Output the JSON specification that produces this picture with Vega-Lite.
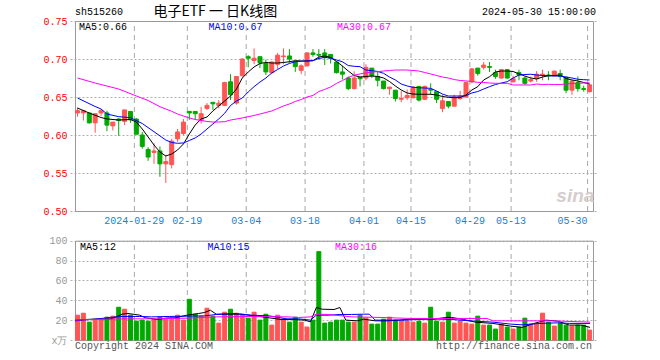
{
"$schema":"https://vega.github.io/schema/vega-lite/v6.json",
"width":528,"height":319,
"autosize":{"type":"none"},
"padding":{"left":70,"top":21,"right":62,"bottom":20},
"background":"#FFFFFF",
"config":{"view":{"stroke":null},"axis":{"labelFont":"Liberation Mono","labelFontSize":10},"text":{"font":"Liberation Mono","fontSize":10}},
"datasets":{
"grid":[{"g":10},{"g":19},{"g":29},{"g":39},{"g":49},{"g":57},{"g":67},{"g":74},{"g":87}],
"k":[
{"d":"2024-01-15","i":0,"o":0.629,"h":0.636,"l":0.624,"c":0.632,"v":25},
{"d":"2024-01-16","i":1,"o":0.629,"h":0.633,"l":0.619,"c":0.632,"v":27},
{"d":"2024-01-17","i":2,"o":0.629,"h":0.629,"l":0.615,"c":0.616,"v":18},
{"d":"2024-01-18","i":3,"o":0.616,"h":0.628,"l":0.603,"c":0.628,"v":20},
{"d":"2024-01-19","i":4,"o":0.629,"h":0.634,"l":0.625,"c":0.632,"v":21},
{"d":"2024-01-22","i":5,"o":0.629,"h":0.632,"l":0.605,"c":0.613,"v":23},
{"d":"2024-01-23","i":6,"o":0.612,"h":0.617,"l":0.606,"c":0.617,"v":24},
{"d":"2024-01-24","i":7,"o":0.621,"h":0.622,"l":0.599,"c":0.619,"v":33},
{"d":"2024-01-25","i":8,"o":0.618,"h":0.633,"l":0.613,"c":0.633,"v":31},
{"d":"2024-01-26","i":9,"o":0.631,"h":0.631,"l":0.616,"c":0.620,"v":25},
{"d":"2024-01-29","i":10,"o":0.621,"h":0.622,"l":0.601,"c":0.601,"v":19},
{"d":"2024-01-30","i":11,"o":0.600,"h":0.604,"l":0.582,"c":0.585,"v":20},
{"d":"2024-01-31","i":12,"o":0.581,"h":0.584,"l":0.566,"c":0.571,"v":19},
{"d":"2024-02-01","i":13,"o":0.577,"h":0.589,"l":0.562,"c":0.579,"v":21},
{"d":"2024-02-02","i":14,"o":0.579,"h":0.585,"l":0.545,"c":0.562,"v":23},
{"d":"2024-02-05","i":15,"o":0.562,"h":0.574,"l":0.537,"c":0.565,"v":22},
{"d":"2024-02-06","i":16,"o":0.561,"h":0.595,"l":0.556,"c":0.592,"v":21},
{"d":"2024-02-07","i":17,"o":0.595,"h":0.608,"l":0.591,"c":0.604,"v":25},
{"d":"2024-02-08","i":18,"o":0.602,"h":0.621,"l":0.600,"c":0.617,"v":20},
{"d":"2024-02-19","i":19,"o":0.631,"h":0.631,"l":0.620,"c":0.629,"v":41},
{"d":"2024-02-20","i":20,"o":0.631,"h":0.631,"l":0.620,"c":0.628,"v":26},
{"d":"2024-02-21","i":21,"o":0.619,"h":0.637,"l":0.615,"c":0.628,"v":24},
{"d":"2024-02-22","i":22,"o":0.635,"h":0.642,"l":0.633,"c":0.639,"v":32},
{"d":"2024-02-23","i":23,"o":0.643,"h":0.643,"l":0.633,"c":0.641,"v":24},
{"d":"2024-02-26","i":24,"o":0.639,"h":0.646,"l":0.635,"c":0.642,"v":17},
{"d":"2024-02-27","i":25,"o":0.639,"h":0.670,"l":0.638,"c":0.669,"v":28},
{"d":"2024-02-28","i":26,"o":0.670,"h":0.680,"l":0.646,"c":0.653,"v":31},
{"d":"2024-02-29","i":27,"o":0.642,"h":0.677,"l":0.640,"c":0.677,"v":27},
{"d":"2024-03-01","i":28,"o":0.678,"h":0.701,"l":0.677,"c":0.700,"v":26},
{"d":"2024-03-04","i":29,"o":0.703,"h":0.705,"l":0.689,"c":0.701,"v":22},
{"d":"2024-03-05","i":30,"o":0.698,"h":0.714,"l":0.693,"c":0.701,"v":28},
{"d":"2024-03-06","i":31,"o":0.703,"h":0.703,"l":0.688,"c":0.695,"v":20},
{"d":"2024-03-07","i":32,"o":0.694,"h":0.699,"l":0.679,"c":0.683,"v":26},
{"d":"2024-03-08","i":33,"o":0.682,"h":0.697,"l":0.680,"c":0.696,"v":15},
{"d":"2024-03-11","i":34,"o":0.693,"h":0.708,"l":0.687,"c":0.705,"v":25},
{"d":"2024-03-12","i":35,"o":0.703,"h":0.714,"l":0.693,"c":0.704,"v":21},
{"d":"2024-03-13","i":36,"o":0.704,"h":0.713,"l":0.695,"c":0.700,"v":18},
{"d":"2024-03-14","i":37,"o":0.697,"h":0.697,"l":0.683,"c":0.690,"v":23},
{"d":"2024-03-15","i":38,"o":0.685,"h":0.693,"l":0.680,"c":0.691,"v":18},
{"d":"2024-03-18","i":39,"o":0.691,"h":0.709,"l":0.690,"c":0.708,"v":13},
{"d":"2024-03-19","i":40,"o":0.708,"h":0.713,"l":0.703,"c":0.706,"v":20},
{"d":"2024-03-20","i":41,"o":0.706,"h":0.713,"l":0.699,"c":0.705,"v":89},
{"d":"2024-03-21","i":42,"o":0.708,"h":0.713,"l":0.692,"c":0.702,"v":17},
{"d":"2024-03-22","i":43,"o":0.706,"h":0.706,"l":0.694,"c":0.701,"v":18},
{"d":"2024-03-25","i":44,"o":0.696,"h":0.696,"l":0.681,"c":0.682,"v":20},
{"d":"2024-03-26","i":45,"o":0.683,"h":0.691,"l":0.673,"c":0.680,"v":20},
{"d":"2024-03-27","i":46,"o":0.675,"h":0.677,"l":0.659,"c":0.661,"v":18},
{"d":"2024-03-28","i":47,"o":0.661,"h":0.684,"l":0.660,"c":0.675,"v":18},
{"d":"2024-03-29","i":48,"o":0.676,"h":0.676,"l":0.664,"c":0.674,"v":25},
{"d":"2024-04-01","i":49,"o":0.675,"h":0.693,"l":0.672,"c":0.689,"v":22},
{"d":"2024-04-02","i":50,"o":0.688,"h":0.688,"l":0.675,"c":0.678,"v":16},
{"d":"2024-04-03","i":51,"o":0.677,"h":0.683,"l":0.664,"c":0.672,"v":16},
{"d":"2024-04-08","i":52,"o":0.671,"h":0.671,"l":0.660,"c":0.661,"v":21},
{"d":"2024-04-09","i":53,"o":0.661,"h":0.663,"l":0.653,"c":0.663,"v":23},
{"d":"2024-04-10","i":54,"o":0.659,"h":0.659,"l":0.644,"c":0.648,"v":20},
{"d":"2024-04-11","i":55,"o":0.647,"h":0.658,"l":0.643,"c":0.648,"v":19},
{"d":"2024-04-12","i":56,"o":0.649,"h":0.660,"l":0.646,"c":0.652,"v":19},
{"d":"2024-04-15","i":57,"o":0.649,"h":0.664,"l":0.648,"c":0.663,"v":18},
{"d":"2024-04-16","i":58,"o":0.664,"h":0.664,"l":0.644,"c":0.646,"v":19},
{"d":"2024-04-17","i":59,"o":0.647,"h":0.665,"l":0.646,"c":0.664,"v":17},
{"d":"2024-04-18","i":60,"o":0.660,"h":0.668,"l":0.653,"c":0.659,"v":33},
{"d":"2024-04-19","i":61,"o":0.657,"h":0.657,"l":0.642,"c":0.647,"v":19},
{"d":"2024-04-22","i":62,"o":0.635,"h":0.653,"l":0.630,"c":0.645,"v":18},
{"d":"2024-04-23","i":63,"o":0.644,"h":0.644,"l":0.635,"c":0.638,"v":28},
{"d":"2024-04-24","i":64,"o":0.638,"h":0.653,"l":0.637,"c":0.650,"v":17},
{"d":"2024-04-25","i":65,"o":0.648,"h":0.658,"l":0.646,"c":0.651,"v":19},
{"d":"2024-04-26","i":66,"o":0.650,"h":0.670,"l":0.649,"c":0.669,"v":17},
{"d":"2024-04-29","i":67,"o":0.670,"h":0.688,"l":0.668,"c":0.687,"v":16},
{"d":"2024-04-30","i":68,"o":0.688,"h":0.688,"l":0.678,"c":0.681,"v":24},
{"d":"2024-05-06","i":69,"o":0.689,"h":0.696,"l":0.686,"c":0.692,"v":15},
{"d":"2024-05-07","i":70,"o":0.690,"h":0.696,"l":0.683,"c":0.689,"v":15},
{"d":"2024-05-08","i":71,"o":0.682,"h":0.686,"l":0.674,"c":0.677,"v":11},
{"d":"2024-05-09","i":72,"o":0.675,"h":0.687,"l":0.674,"c":0.686,"v":16},
{"d":"2024-05-10","i":73,"o":0.686,"h":0.686,"l":0.674,"c":0.675,"v":13},
{"d":"2024-05-13","i":74,"o":0.670,"h":0.678,"l":0.669,"c":0.674,"v":11},
{"d":"2024-05-14","i":75,"o":0.682,"h":0.686,"l":0.672,"c":0.679,"v":13},
{"d":"2024-05-15","i":76,"o":0.675,"h":0.677,"l":0.666,"c":0.668,"v":22},
{"d":"2024-05-16","i":77,"o":0.671,"h":0.677,"l":0.669,"c":0.673,"v":16},
{"d":"2024-05-17","i":78,"o":0.674,"h":0.684,"l":0.670,"c":0.680,"v":16},
{"d":"2024-05-20","i":79,"o":0.679,"h":0.686,"l":0.672,"c":0.680,"v":27},
{"d":"2024-05-21","i":80,"o":0.679,"h":0.684,"l":0.672,"c":0.678,"v":18},
{"d":"2024-05-22","i":81,"o":0.678,"h":0.685,"l":0.677,"c":0.684,"v":14},
{"d":"2024-05-23","i":82,"o":0.681,"h":0.686,"l":0.672,"c":0.677,"v":17},
{"d":"2024-05-24","i":83,"o":0.676,"h":0.676,"l":0.655,"c":0.659,"v":15},
{"d":"2024-05-27","i":84,"o":0.659,"h":0.672,"l":0.653,"c":0.671,"v":14},
{"d":"2024-05-28","i":85,"o":0.669,"h":0.677,"l":0.657,"c":0.661,"v":15},
{"d":"2024-05-29","i":86,"o":0.661,"h":0.665,"l":0.657,"c":0.660,"v":15},
{"d":"2024-05-30","i":87,"o":0.657,"h":0.667,"l":0.656,"c":0.666,"v":10}
],
"ma":[
{"i":0,"s":"MA5","p":0.6355},{"i":2,"s":"MA5","p":0.6289},{"i":4,"s":"MA5","p":0.623},{"i":5,"s":"MA5","p":0.6211},{"i":7,"s":"MA5","p":0.6197},{"i":9,"s":"MA5","p":0.6204},{"i":10,"s":"MA5","p":0.6171},{"i":11,"s":"MA5","p":0.6079},{"i":12,"s":"MA5","p":0.5974},{"i":13,"s":"MA5","p":0.5868},{"i":14,"s":"MA5","p":0.5776},{"i":15,"s":"MA5","p":0.5724},{"i":16,"s":"MA5","p":0.575},{"i":17,"s":"MA5","p":0.5803},{"i":18,"s":"MA5","p":0.5882},{"i":19,"s":"MA5","p":0.6013},{"i":20,"s":"MA5","p":0.6132},{"i":21,"s":"MA5","p":0.6211},{"i":22,"s":"MA5","p":0.6237},{"i":23,"s":"MA5","p":0.6316},{"i":24,"s":"MA5","p":0.6382},{"i":25,"s":"MA5","p":0.6447},{"i":26,"s":"MA5","p":0.6513},{"i":27,"s":"MA5","p":0.6605},{"i":28,"s":"MA5","p":0.675},{"i":29,"s":"MA5","p":0.6829},{"i":30,"s":"MA5","p":0.6895},{"i":31,"s":"MA5","p":0.6941},{"i":32,"s":"MA5","p":0.6954},{"i":33,"s":"MA5","p":0.6947},{"i":34,"s":"MA5","p":0.6947},{"i":35,"s":"MA5","p":0.6954},{"i":36,"s":"MA5","p":0.6964},{"i":37,"s":"MA5","p":0.6978},{"i":38,"s":"MA5","p":0.6974},{"i":39,"s":"MA5","p":0.6974},{"i":40,"s":"MA5","p":0.6978},{"i":41,"s":"MA5","p":0.7026},{"i":42,"s":"MA5","p":0.7039},{"i":43,"s":"MA5","p":0.702},{"i":44,"s":"MA5","p":0.6967},{"i":45,"s":"MA5","p":0.6908},{"i":46,"s":"MA5","p":0.6842},{"i":47,"s":"MA5","p":0.6783},{"i":48,"s":"MA5","p":0.6763},{"i":49,"s":"MA5","p":0.677},{"i":50,"s":"MA5","p":0.6776},{"i":51,"s":"MA5","p":0.677},{"i":52,"s":"MA5","p":0.675},{"i":53,"s":"MA5","p":0.6704},{"i":54,"s":"MA5","p":0.6645},{"i":55,"s":"MA5","p":0.6592},{"i":56,"s":"MA5","p":0.6553},{"i":57,"s":"MA5","p":0.6539},{"i":58,"s":"MA5","p":0.6536},{"i":59,"s":"MA5","p":0.6536},{"i":60,"s":"MA5","p":0.6536},{"i":61,"s":"MA5","p":0.6526},{"i":62,"s":"MA5","p":0.6507},{"i":63,"s":"MA5","p":0.6496},{"i":64,"s":"MA5","p":0.6491},{"i":65,"s":"MA5","p":0.6493},{"i":66,"s":"MA5","p":0.6526},{"i":67,"s":"MA5","p":0.6592},{"i":68,"s":"MA5","p":0.6636},{"i":69,"s":"MA5","p":0.6724},{"i":70,"s":"MA5","p":0.6767},{"i":71,"s":"MA5","p":0.6829},{"i":72,"s":"MA5","p":0.6842},{"i":73,"s":"MA5","p":0.6842},{"i":74,"s":"MA5","p":0.6836},{"i":75,"s":"MA5","p":0.6803},{"i":76,"s":"MA5","p":0.6776},{"i":77,"s":"MA5","p":0.675},{"i":78,"s":"MA5","p":0.6737},{"i":79,"s":"MA5","p":0.6763},{"i":80,"s":"MA5","p":0.678},{"i":81,"s":"MA5","p":0.6783},{"i":82,"s":"MA5","p":0.6789},{"i":83,"s":"MA5","p":0.6743},{"i":84,"s":"MA5","p":0.6724},{"i":85,"s":"MA5","p":0.6711},{"i":86,"s":"MA5","p":0.6691},{"i":87,"s":"MA5","p":0.6671},
{"i":0,"s":"MA10","p":0.6487},{"i":3,"s":"MA10","p":0.6375},{"i":4,"s":"MA10","p":0.6342},{"i":5,"s":"MA10","p":0.6276},{"i":7,"s":"MA10","p":0.6241},{"i":9,"s":"MA10","p":0.6228},{"i":11,"s":"MA10","p":0.6151},{"i":13,"s":"MA10","p":0.6043},{"i":15,"s":"MA10","p":0.5934},{"i":16,"s":"MA10","p":0.5901},{"i":17,"s":"MA10","p":0.5891},{"i":18,"s":"MA10","p":0.5895},{"i":19,"s":"MA10","p":0.5928},{"i":20,"s":"MA10","p":0.5961},{"i":21,"s":"MA10","p":0.6013},{"i":22,"s":"MA10","p":0.6079},{"i":23,"s":"MA10","p":0.6145},{"i":24,"s":"MA10","p":0.6211},{"i":25,"s":"MA10","p":0.6286},{"i":26,"s":"MA10","p":0.6388},{"i":27,"s":"MA10","p":0.6447},{"i":28,"s":"MA10","p":0.6487},{"i":29,"s":"MA10","p":0.6566},{"i":30,"s":"MA10","p":0.6636},{"i":31,"s":"MA10","p":0.6697},{"i":32,"s":"MA10","p":0.675},{"i":33,"s":"MA10","p":0.6816},{"i":34,"s":"MA10","p":0.6862},{"i":35,"s":"MA10","p":0.6908},{"i":36,"s":"MA10","p":0.6941},{"i":37,"s":"MA10","p":0.6964},{"i":38,"s":"MA10","p":0.6971},{"i":39,"s":"MA10","p":0.6974},{"i":40,"s":"MA10","p":0.6978},{"i":41,"s":"MA10","p":0.7007},{"i":42,"s":"MA10","p":0.702},{"i":43,"s":"MA10","p":0.7013},{"i":44,"s":"MA10","p":0.6987},{"i":45,"s":"MA10","p":0.6964},{"i":46,"s":"MA10","p":0.6914},{"i":47,"s":"MA10","p":0.6904},{"i":48,"s":"MA10","p":0.6899},{"i":49,"s":"MA10","p":0.6855},{"i":50,"s":"MA10","p":0.6846},{"i":51,"s":"MA10","p":0.6836},{"i":52,"s":"MA10","p":0.6812},{"i":53,"s":"MA10","p":0.6763},{"i":54,"s":"MA10","p":0.6724},{"i":55,"s":"MA10","p":0.6671},{"i":56,"s":"MA10","p":0.6645},{"i":57,"s":"MA10","p":0.6628},{"i":58,"s":"MA10","p":0.6622},{"i":59,"s":"MA10","p":0.6618},{"i":60,"s":"MA10","p":0.6614},{"i":61,"s":"MA10","p":0.6579},{"i":62,"s":"MA10","p":0.6539},{"i":63,"s":"MA10","p":0.6513},{"i":64,"s":"MA10","p":0.6513},{"i":65,"s":"MA10","p":0.6513},{"i":66,"s":"MA10","p":0.6517},{"i":67,"s":"MA10","p":0.6553},{"i":68,"s":"MA10","p":0.6572},{"i":69,"s":"MA10","p":0.6605},{"i":70,"s":"MA10","p":0.6636},{"i":71,"s":"MA10","p":0.6664},{"i":72,"s":"MA10","p":0.6684},{"i":73,"s":"MA10","p":0.6701},{"i":74,"s":"MA10","p":0.675},{"i":75,"s":"MA10","p":0.6789},{"i":76,"s":"MA10","p":0.6796},{"i":77,"s":"MA10","p":0.6799},{"i":78,"s":"MA10","p":0.6789},{"i":79,"s":"MA10","p":0.6783},{"i":80,"s":"MA10","p":0.678},{"i":81,"s":"MA10","p":0.6776},{"i":82,"s":"MA10","p":0.6776},{"i":83,"s":"MA10","p":0.6763},{"i":84,"s":"MA10","p":0.675},{"i":85,"s":"MA10","p":0.6733},{"i":86,"s":"MA10","p":0.6728},{"i":87,"s":"MA10","p":0.6724},
{"i":0,"s":"MA30","p":0.675},{"i":3,"s":"MA30","p":0.6684},{"i":7,"s":"MA30","p":0.6605},{"i":10,"s":"MA30","p":0.6513},{"i":12,"s":"MA30","p":0.6454},{"i":14,"s":"MA30","p":0.6372},{"i":16,"s":"MA30","p":0.6312},{"i":17,"s":"MA30","p":0.6276},{"i":18,"s":"MA30","p":0.625},{"i":19,"s":"MA30","p":0.6224},{"i":20,"s":"MA30","p":0.6204},{"i":21,"s":"MA30","p":0.6191},{"i":22,"s":"MA30","p":0.6178},{"i":23,"s":"MA30","p":0.6171},{"i":24,"s":"MA30","p":0.6171},{"i":25,"s":"MA30","p":0.6175},{"i":26,"s":"MA30","p":0.6197},{"i":28,"s":"MA30","p":0.6224},{"i":30,"s":"MA30","p":0.6257},{"i":31,"s":"MA30","p":0.6276},{"i":33,"s":"MA30","p":0.6316},{"i":34,"s":"MA30","p":0.6349},{"i":35,"s":"MA30","p":0.6382},{"i":36,"s":"MA30","p":0.6408},{"i":37,"s":"MA30","p":0.6441},{"i":38,"s":"MA30","p":0.6467},{"i":39,"s":"MA30","p":0.65},{"i":40,"s":"MA30","p":0.652},{"i":41,"s":"MA30","p":0.6572},{"i":42,"s":"MA30","p":0.6599},{"i":43,"s":"MA30","p":0.6632},{"i":44,"s":"MA30","p":0.6678},{"i":45,"s":"MA30","p":0.6717},{"i":46,"s":"MA30","p":0.6757},{"i":47,"s":"MA30","p":0.6786},{"i":48,"s":"MA30","p":0.6803},{"i":49,"s":"MA30","p":0.6816},{"i":50,"s":"MA30","p":0.6829},{"i":51,"s":"MA30","p":0.6833},{"i":52,"s":"MA30","p":0.6842},{"i":53,"s":"MA30","p":0.6849},{"i":54,"s":"MA30","p":0.6855},{"i":55,"s":"MA30","p":0.6855},{"i":56,"s":"MA30","p":0.6855},{"i":57,"s":"MA30","p":0.6849},{"i":58,"s":"MA30","p":0.6842},{"i":59,"s":"MA30","p":0.6822},{"i":60,"s":"MA30","p":0.6803},{"i":61,"s":"MA30","p":0.6783},{"i":62,"s":"MA30","p":0.6763},{"i":63,"s":"MA30","p":0.675},{"i":64,"s":"MA30","p":0.673},{"i":65,"s":"MA30","p":0.6717},{"i":66,"s":"MA30","p":0.6711},{"i":67,"s":"MA30","p":0.6704},{"i":68,"s":"MA30","p":0.6693},{"i":69,"s":"MA30","p":0.6691},{"i":70,"s":"MA30","p":0.6684},{"i":71,"s":"MA30","p":0.668},{"i":72,"s":"MA30","p":0.668},{"i":73,"s":"MA30","p":0.668},{"i":74,"s":"MA30","p":0.6658},{"i":75,"s":"MA30","p":0.6658},{"i":76,"s":"MA30","p":0.6658},{"i":77,"s":"MA30","p":0.6658},{"i":78,"s":"MA30","p":0.6671},{"i":79,"s":"MA30","p":0.6664},{"i":80,"s":"MA30","p":0.6667},{"i":81,"s":"MA30","p":0.6664},{"i":82,"s":"MA30","p":0.6664},{"i":83,"s":"MA30","p":0.6671},{"i":84,"s":"MA30","p":0.6678},{"i":85,"s":"MA30","p":0.668},{"i":86,"s":"MA30","p":0.6684},{"i":87,"s":"MA30","p":0.6687}
],
"vma":[
{"i":0,"s":"MA5","v":19.3},{"i":2,"s":"MA5","v":20.7},{"i":4,"s":"MA5","v":21.3},{"i":6,"s":"MA5","v":21.3},{"i":7,"s":"MA5","v":23.3},{"i":8,"s":"MA5","v":26},{"i":9,"s":"MA5","v":26.7},{"i":11,"s":"MA5","v":25},{"i":12,"s":"MA5","v":22.3},{"i":14,"s":"MA5","v":20.7},{"i":16,"s":"MA5","v":22.3},{"i":17,"s":"MA5","v":22.3},{"i":19,"s":"MA5","v":25},{"i":21,"s":"MA5","v":26.7},{"i":22,"s":"MA5","v":27.7},{"i":23,"s":"MA5","v":30},{"i":24,"s":"MA5","v":26},{"i":26,"s":"MA5","v":26},{"i":28,"s":"MA5","v":26},{"i":31,"s":"MA5","v":24},{"i":33,"s":"MA5","v":22.3},{"i":35,"s":"MA5","v":20.7},{"i":37,"s":"MA5","v":20.7},{"i":39,"s":"MA5","v":20},{"i":40,"s":"MA5","v":18.3},{"i":41,"s":"MA5","v":32.7},{"i":42,"s":"MA5","v":31},{"i":44,"s":"MA5","v":30.7},{"i":45,"s":"MA5","v":32.7},{"i":46,"s":"MA5","v":20},{"i":48,"s":"MA5","v":19.3},{"i":49,"s":"MA5","v":21},{"i":51,"s":"MA5","v":19.3},{"i":53,"s":"MA5","v":19.3},{"i":55,"s":"MA5","v":20},{"i":57,"s":"MA5","v":21},{"i":58,"s":"MA5","v":21},{"i":61,"s":"MA5","v":21},{"i":63,"s":"MA5","v":22.7},{"i":64,"s":"MA5","v":22.7},{"i":66,"s":"MA5","v":20.7},{"i":68,"s":"MA5","v":18},{"i":71,"s":"MA5","v":16.7},{"i":74,"s":"MA5","v":14},{"i":76,"s":"MA5","v":12.7},{"i":78,"s":"MA5","v":16.7},{"i":80,"s":"MA5","v":20},{"i":82,"s":"MA5","v":19},{"i":84,"s":"MA5","v":15},{"i":86,"s":"MA5","v":15},{"i":87.5,"s":"MA5","v":12.7},
{"i":0,"s":"MA10","v":20},{"i":3,"s":"MA10","v":20.7},{"i":6,"s":"MA10","v":22.7},{"i":8,"s":"MA10","v":23.7},{"i":11,"s":"MA10","v":23.7},{"i":13,"s":"MA10","v":23.3},{"i":16,"s":"MA10","v":23.7},{"i":19,"s":"MA10","v":24},{"i":22,"s":"MA10","v":24.3},{"i":24,"s":"MA10","v":25.7},{"i":27,"s":"MA10","v":26.7},{"i":30,"s":"MA10","v":25},{"i":33,"s":"MA10","v":24.3},{"i":36,"s":"MA10","v":21.3},{"i":38,"s":"MA10","v":21.3},{"i":40,"s":"MA10","v":20},{"i":41,"s":"MA10","v":25},{"i":43,"s":"MA10","v":25},{"i":45,"s":"MA10","v":25.7},{"i":47,"s":"MA10","v":25.7},{"i":49,"s":"MA10","v":26},{"i":50,"s":"MA10","v":26},{"i":51,"s":"MA10","v":20},{"i":56,"s":"MA10","v":20},{"i":60,"s":"MA10","v":21.3},{"i":64,"s":"MA10","v":20.7},{"i":67,"s":"MA10","v":19.3},{"i":71,"s":"MA10","v":18},{"i":74,"s":"MA10","v":16},{"i":76,"s":"MA10","v":15.3},{"i":79,"s":"MA10","v":16.7},{"i":82,"s":"MA10","v":17.3},{"i":84,"s":"MA10","v":16.7},{"i":87.5,"s":"MA10","v":16.7},
{"i":0,"s":"MA30","v":20},{"i":3,"s":"MA30","v":20.7},{"i":8,"s":"MA30","v":21.3},{"i":13,"s":"MA30","v":21.3},{"i":19,"s":"MA30","v":22},{"i":24,"s":"MA30","v":23.3},{"i":30,"s":"MA30","v":23.7},{"i":36,"s":"MA30","v":23.3},{"i":38,"s":"MA30","v":22.7},{"i":40,"s":"MA30","v":23.3},{"i":41,"s":"MA30","v":26},{"i":43,"s":"MA30","v":25.7},{"i":47,"s":"MA30","v":23.3},{"i":52,"s":"MA30","v":22.7},{"i":57,"s":"MA30","v":21.7},{"i":70,"s":"MA30","v":21.7},{"i":71,"s":"MA30","v":19.3},{"i":81,"s":"MA30","v":19.3},{"i":87.5,"s":"MA30","v":18}
]
},
"layer":[
{"layer":[
 {"data":{"name":"grid"},"mark":{"type":"rule","color":"#A8A8A8","strokeDash":[5,4],"strokeWidth":1,"xOffset":0.5},
  "encoding":{"x":{"field":"g","type":"quantitative","scale":{"domain":[0,88],"nice":false,"zero":false},"axis":{"orient":"bottom","offset":-129,"values":[10,19,29,39,49,57,67,74,87],"labelExpr":"datum.value==10?'2024-01-29':datum.value==19?'02-19':datum.value==29?'03-04':datum.value==39?'03-18':datum.value==49?'04-01':datum.value==57?'04-15':datum.value==67?'04-29':datum.value==74?'05-13':'05-30'","labelColor":"#1A7FD0","labelPadding":4,"ticks":false,"domain":false,"grid":false,"title":null,"labelOverlap":false,"labelFlush":false,"labelAlign":{"condition":{"test":"datum.value == 87","value":"right"},"value":"center"}}},
   "y":{"datum":0.5,"type":"quantitative","scale":{"domain":[0.5,0.75],"range":[190,0],"nice":false,"zero":false},"axis":{"orient":"left","values":[0.5,0.55,0.6,0.65,0.7,0.75],"format":".2f","labelColor":"#FF0000","labelPadding":3,"ticks":false,"domain":false,"grid":true,"gridColor":"#B0B0B0","gridDash":[2,2],"title":null}},
   "y2":{"datum":0.75}}},
 {"data":{"values":[{}]},"mark":{"type":"rect","filled":false,"color":"#999999","strokeWidth":1,"xOffset":0.5,"x2Offset":0.5,"yOffset":0.5,"y2Offset":0.5},
  "encoding":{"x":{"datum":0,"type":"quantitative","scale":{"domain":[0,88],"nice":false,"zero":false},"axis":{"orient":"bottom","offset":-129,"values":[10,19,29,39,49,57,67,74,87],"labelExpr":"datum.value==10?'2024-01-29':datum.value==19?'02-19':datum.value==29?'03-04':datum.value==39?'03-18':datum.value==49?'04-01':datum.value==57?'04-15':datum.value==67?'04-29':datum.value==74?'05-13':'05-30'","labelColor":"#1A7FD0","labelPadding":4,"ticks":false,"domain":false,"grid":false,"title":null,"labelOverlap":false,"labelFlush":false,"labelAlign":{"condition":{"test":"datum.value == 87","value":"right"},"value":"center"}}},"x2":{"datum":88},
   "y":{"datum":0.5,"type":"quantitative","scale":{"domain":[0.5,0.75],"range":[190,0],"nice":false,"zero":false},"axis":{"orient":"left","values":[0.5,0.55,0.6,0.65,0.7,0.75],"format":".2f","labelColor":"#FF0000","labelPadding":3,"ticks":false,"domain":false,"grid":true,"gridColor":"#B0B0B0","gridDash":[2,2],"title":null}},"y2":{"datum":0.75}}},
 {"data":{"name":"k"},"mark":{"type":"rule","strokeWidth":1,"xOffset":2.5},
  "encoding":{"x":{"field":"i","type":"quantitative","scale":{"domain":[0,88],"nice":false,"zero":false},"axis":{"orient":"bottom","offset":-129,"values":[10,19,29,39,49,57,67,74,87],"labelExpr":"datum.value==10?'2024-01-29':datum.value==19?'02-19':datum.value==29?'03-04':datum.value==39?'03-18':datum.value==49?'04-01':datum.value==57?'04-15':datum.value==67?'04-29':datum.value==74?'05-13':'05-30'","labelColor":"#1A7FD0","labelPadding":4,"ticks":false,"domain":false,"grid":false,"title":null,"labelOverlap":false,"labelFlush":false,"labelAlign":{"condition":{"test":"datum.value == 87","value":"right"},"value":"center"}}},
   "y":{"field":"l","type":"quantitative","scale":{"domain":[0.5,0.75],"range":[190,0],"nice":false,"zero":false},"axis":{"orient":"left","values":[0.5,0.55,0.6,0.65,0.7,0.75],"format":".2f","labelColor":"#FF0000","labelPadding":3,"ticks":false,"domain":false,"grid":true,"gridColor":"#B0B0B0","gridDash":[2,2],"title":null}},"y2":{"field":"h"},
   "color":{"condition":{"test":"datum.c >= datum.o","value":"#FF5555"},"value":"#00A800"}}},
 {"data":{"name":"k"},"mark":{"type":"bar","width":4,"strokeWidth":1,"xOffset":2.5},
  "encoding":{"x":{"field":"i","type":"quantitative","scale":{"domain":[0,88],"nice":false,"zero":false},"axis":{"orient":"bottom","offset":-129,"values":[10,19,29,39,49,57,67,74,87],"labelExpr":"datum.value==10?'2024-01-29':datum.value==19?'02-19':datum.value==29?'03-04':datum.value==39?'03-18':datum.value==49?'04-01':datum.value==57?'04-15':datum.value==67?'04-29':datum.value==74?'05-13':'05-30'","labelColor":"#1A7FD0","labelPadding":4,"ticks":false,"domain":false,"grid":false,"title":null,"labelOverlap":false,"labelFlush":false,"labelAlign":{"condition":{"test":"datum.value == 87","value":"right"},"value":"center"}}},
   "y":{"field":"o","type":"quantitative","scale":{"domain":[0.5,0.75],"range":[190,0],"nice":false,"zero":false},"axis":{"orient":"left","values":[0.5,0.55,0.6,0.65,0.7,0.75],"format":".2f","labelColor":"#FF0000","labelPadding":3,"ticks":false,"domain":false,"grid":true,"gridColor":"#B0B0B0","gridDash":[2,2],"title":null}},"y2":{"field":"c"},
   "color":{"condition":{"test":"datum.c >= datum.o","value":"#FF5555"},"value":"#00A800"},
   "stroke":{"condition":{"test":"datum.c >= datum.o","value":"#FF5555"},"value":"#00A800"}}},
 {"data":{"name":"ma"},"mark":{"type":"line","strokeWidth":1,"xOffset":2.5},
  "encoding":{"x":{"field":"i","type":"quantitative","scale":{"domain":[0,88],"nice":false,"zero":false},"axis":{"orient":"bottom","offset":-129,"values":[10,19,29,39,49,57,67,74,87],"labelExpr":"datum.value==10?'2024-01-29':datum.value==19?'02-19':datum.value==29?'03-04':datum.value==39?'03-18':datum.value==49?'04-01':datum.value==57?'04-15':datum.value==67?'04-29':datum.value==74?'05-13':'05-30'","labelColor":"#1A7FD0","labelPadding":4,"ticks":false,"domain":false,"grid":false,"title":null,"labelOverlap":false,"labelFlush":false,"labelAlign":{"condition":{"test":"datum.value == 87","value":"right"},"value":"center"}}},
   "y":{"field":"p","type":"quantitative","scale":{"domain":[0.5,0.75],"range":[190,0],"nice":false,"zero":false},"axis":{"orient":"left","values":[0.5,0.55,0.6,0.65,0.7,0.75],"format":".2f","labelColor":"#FF0000","labelPadding":3,"ticks":false,"domain":false,"grid":true,"gridColor":"#B0B0B0","gridDash":[2,2],"title":null}},
   "color":{"field":"s","type":"nominal","scale":{"domain":["MA5","MA10","MA30","G"],"range":["#000000","#0000FF","#FF00FF","#555555"]},"legend":null}}},
 {"data":{"values":[{"t":"sh515260","xi":0,"yp":0.7618,"s":"MA5"},{"t":"MA5:0.66","xi":0.67,"yp":0.7421,"s":"MA5"},{"t":"MA10:0.67","xi":22.67,"yp":0.7421,"s":"MA10"},{"t":"MA30:0.67","xi":44.5,"yp":0.7421,"s":"MA30"}]},
  "mark":{"type":"text","baseline":"middle","align":"left"},
  "encoding":{"x":{"field":"xi","type":"quantitative","scale":{"domain":[0,88],"nice":false,"zero":false},"axis":{"orient":"bottom","offset":-129,"values":[10,19,29,39,49,57,67,74,87],"labelExpr":"datum.value==10?'2024-01-29':datum.value==19?'02-19':datum.value==29?'03-04':datum.value==39?'03-18':datum.value==49?'04-01':datum.value==57?'04-15':datum.value==67?'04-29':datum.value==74?'05-13':'05-30'","labelColor":"#1A7FD0","labelPadding":4,"ticks":false,"domain":false,"grid":false,"title":null,"labelOverlap":false,"labelFlush":false,"labelAlign":{"condition":{"test":"datum.value == 87","value":"right"},"value":"center"}}},
   "y":{"field":"yp","type":"quantitative","scale":{"domain":[0.5,0.75],"range":[190,0],"nice":false,"zero":false},"axis":{"orient":"left","values":[0.5,0.55,0.6,0.65,0.7,0.75],"format":".2f","labelColor":"#FF0000","labelPadding":3,"ticks":false,"domain":false,"grid":true,"gridColor":"#B0B0B0","gridDash":[2,2],"title":null}},
   "text":{"field":"t"},
   "color":{"field":"s","type":"nominal","scale":{"domain":["MA5","MA10","MA30","G"],"range":["#000000","#0000FF","#FF00FF","#555555"]},"legend":null}}},
 {"data":{"values":[{"t":"2024-05-30 15:00:00","xi":88.5,"yp":0.7618}]},"mark":{"type":"text","align":"right","baseline":"middle","color":"#000000"},
  "encoding":{"x":{"field":"xi","type":"quantitative","scale":{"domain":[0,88],"nice":false,"zero":false},"axis":{"orient":"bottom","offset":-129,"values":[10,19,29,39,49,57,67,74,87],"labelExpr":"datum.value==10?'2024-01-29':datum.value==19?'02-19':datum.value==29?'03-04':datum.value==39?'03-18':datum.value==49?'04-01':datum.value==57?'04-15':datum.value==67?'04-29':datum.value==74?'05-13':'05-30'","labelColor":"#1A7FD0","labelPadding":4,"ticks":false,"domain":false,"grid":false,"title":null,"labelOverlap":false,"labelFlush":false,"labelAlign":{"condition":{"test":"datum.value == 87","value":"right"},"value":"center"}}},
   "y":{"field":"yp","type":"quantitative","scale":{"domain":[0.5,0.75],"range":[190,0],"nice":false,"zero":false},"axis":{"orient":"left","values":[0.5,0.55,0.6,0.65,0.7,0.75],"format":".2f","labelColor":"#FF0000","labelPadding":3,"ticks":false,"domain":false,"grid":true,"gridColor":"#B0B0B0","gridDash":[2,2],"title":null}},
   "text":{"field":"t"}}},
 {"data":{"values":[{"t":"电子ETF 一 日K线图","xi":13.33,"yp":0.7618}]},"mark":{"type":"text","align":"left","baseline":"middle","color":"#000000","font":"Noto Sans CJK SC","fontSize":14},
  "encoding":{"x":{"field":"xi","type":"quantitative","scale":{"domain":[0,88],"nice":false,"zero":false},"axis":{"orient":"bottom","offset":-129,"values":[10,19,29,39,49,57,67,74,87],"labelExpr":"datum.value==10?'2024-01-29':datum.value==19?'02-19':datum.value==29?'03-04':datum.value==39?'03-18':datum.value==49?'04-01':datum.value==57?'04-15':datum.value==67?'04-29':datum.value==74?'05-13':'05-30'","labelColor":"#1A7FD0","labelPadding":4,"ticks":false,"domain":false,"grid":false,"title":null,"labelOverlap":false,"labelFlush":false,"labelAlign":{"condition":{"test":"datum.value == 87","value":"right"},"value":"center"}}},
   "y":{"field":"yp","type":"quantitative","scale":{"domain":[0.5,0.75],"range":[190,0],"nice":false,"zero":false},"axis":{"orient":"left","values":[0.5,0.55,0.6,0.65,0.7,0.75],"format":".2f","labelColor":"#FF0000","labelPadding":3,"ticks":false,"domain":false,"grid":true,"gridColor":"#B0B0B0","gridDash":[2,2],"title":null}},
   "text":{"field":"t"}}},
 {"data":{"values":[{"t":"sina","xi":85,"yp":0.5195}]},"mark":{"type":"text","align":"center","baseline":"middle","color":"#D6CDCD","font":"Liberation Sans","fontSize":19,"fontWeight":"bold","fontStyle":"italic"},
  "encoding":{"x":{"field":"xi","type":"quantitative","scale":{"domain":[0,88],"nice":false,"zero":false},"axis":{"orient":"bottom","offset":-129,"values":[10,19,29,39,49,57,67,74,87],"labelExpr":"datum.value==10?'2024-01-29':datum.value==19?'02-19':datum.value==29?'03-04':datum.value==39?'03-18':datum.value==49?'04-01':datum.value==57?'04-15':datum.value==67?'04-29':datum.value==74?'05-13':'05-30'","labelColor":"#1A7FD0","labelPadding":4,"ticks":false,"domain":false,"grid":false,"title":null,"labelOverlap":false,"labelFlush":false,"labelAlign":{"condition":{"test":"datum.value == 87","value":"right"},"value":"center"}}},
   "y":{"field":"yp","type":"quantitative","scale":{"domain":[0.5,0.75],"range":[190,0],"nice":false,"zero":false},"axis":{"orient":"left","values":[0.5,0.55,0.6,0.65,0.7,0.75],"format":".2f","labelColor":"#FF0000","labelPadding":3,"ticks":false,"domain":false,"grid":true,"gridColor":"#B0B0B0","gridDash":[2,2],"title":null}},
   "text":{"field":"t"}}}
]},
{"layer":[
 {"data":{"name":"grid"},"mark":{"type":"rule","color":"#A8A8A8","strokeDash":[5,4],"strokeWidth":1,"xOffset":0.5},
  "encoding":{"x":{"field":"g","type":"quantitative","scale":{"domain":[0,88],"nice":false,"zero":false},"axis":{"orient":"bottom","offset":-129,"values":[10,19,29,39,49,57,67,74,87],"labelExpr":"datum.value==10?'2024-01-29':datum.value==19?'02-19':datum.value==29?'03-04':datum.value==39?'03-18':datum.value==49?'04-01':datum.value==57?'04-15':datum.value==67?'04-29':datum.value==74?'05-13':'05-30'","labelColor":"#1A7FD0","labelPadding":4,"ticks":false,"domain":false,"grid":false,"title":null,"labelOverlap":false,"labelFlush":false,"labelAlign":{"condition":{"test":"datum.value == 87","value":"right"},"value":"center"}}},
   "y":{"datum":0,"type":"quantitative","scale":{"domain":[0,100],"range":[319,219.7],"nice":false,"zero":false},"axis":{"orient":"left","values":[0,20,40,60,80,100],"labelExpr":"datum.value == 0 ? 'x万' : datum.label","labelColor":"#999999","labelPadding":3,"ticks":false,"domain":false,"grid":true,"gridColor":"#B0B0B0","gridDash":[2,2],"title":null}},
   "y2":{"datum":100}}},
 {"data":{"values":[{}]},"mark":{"type":"rect","filled":false,"color":"#999999","strokeWidth":1,"xOffset":0.5,"x2Offset":0.5,"yOffset":0.5,"y2Offset":0.5},
  "encoding":{"x":{"datum":0,"type":"quantitative","scale":{"domain":[0,88],"nice":false,"zero":false},"axis":{"orient":"bottom","offset":-129,"values":[10,19,29,39,49,57,67,74,87],"labelExpr":"datum.value==10?'2024-01-29':datum.value==19?'02-19':datum.value==29?'03-04':datum.value==39?'03-18':datum.value==49?'04-01':datum.value==57?'04-15':datum.value==67?'04-29':datum.value==74?'05-13':'05-30'","labelColor":"#1A7FD0","labelPadding":4,"ticks":false,"domain":false,"grid":false,"title":null,"labelOverlap":false,"labelFlush":false,"labelAlign":{"condition":{"test":"datum.value == 87","value":"right"},"value":"center"}}},"x2":{"datum":88},
   "y":{"datum":0,"type":"quantitative","scale":{"domain":[0,100],"range":[319,219.7],"nice":false,"zero":false},"axis":{"orient":"left","values":[0,20,40,60,80,100],"labelExpr":"datum.value == 0 ? 'x万' : datum.label","labelColor":"#999999","labelPadding":3,"ticks":false,"domain":false,"grid":true,"gridColor":"#B0B0B0","gridDash":[2,2],"title":null}},"y2":{"datum":100}}},
 {"data":{"name":"k"},"mark":{"type":"bar","width":4,"strokeWidth":1,"xOffset":2.5},
  "encoding":{"x":{"field":"i","type":"quantitative","scale":{"domain":[0,88],"nice":false,"zero":false},"axis":{"orient":"bottom","offset":-129,"values":[10,19,29,39,49,57,67,74,87],"labelExpr":"datum.value==10?'2024-01-29':datum.value==19?'02-19':datum.value==29?'03-04':datum.value==39?'03-18':datum.value==49?'04-01':datum.value==57?'04-15':datum.value==67?'04-29':datum.value==74?'05-13':'05-30'","labelColor":"#1A7FD0","labelPadding":4,"ticks":false,"domain":false,"grid":false,"title":null,"labelOverlap":false,"labelFlush":false,"labelAlign":{"condition":{"test":"datum.value == 87","value":"right"},"value":"center"}}},
   "y":{"field":"v","type":"quantitative","scale":{"domain":[0,100],"range":[319,219.7],"nice":false,"zero":false},"axis":{"orient":"left","values":[0,20,40,60,80,100],"labelExpr":"datum.value == 0 ? 'x万' : datum.label","labelColor":"#999999","labelPadding":3,"ticks":false,"domain":false,"grid":true,"gridColor":"#B0B0B0","gridDash":[2,2],"title":null}},
   "color":{"condition":{"test":"datum.c >= datum.o","value":"#FF5555"},"value":"#00A800"},
   "stroke":{"condition":{"test":"datum.c >= datum.o","value":"#FF5555"},"value":"#00A800"}}},
 {"data":{"name":"vma"},"mark":{"type":"line","strokeWidth":1},
  "encoding":{"x":{"field":"i","type":"quantitative","scale":{"domain":[0,88],"nice":false,"zero":false},"axis":{"orient":"bottom","offset":-129,"values":[10,19,29,39,49,57,67,74,87],"labelExpr":"datum.value==10?'2024-01-29':datum.value==19?'02-19':datum.value==29?'03-04':datum.value==39?'03-18':datum.value==49?'04-01':datum.value==57?'04-15':datum.value==67?'04-29':datum.value==74?'05-13':'05-30'","labelColor":"#1A7FD0","labelPadding":4,"ticks":false,"domain":false,"grid":false,"title":null,"labelOverlap":false,"labelFlush":false,"labelAlign":{"condition":{"test":"datum.value == 87","value":"right"},"value":"center"}}},
   "y":{"field":"v","type":"quantitative","scale":{"domain":[0,100],"range":[319,219.7],"nice":false,"zero":false},"axis":{"orient":"left","values":[0,20,40,60,80,100],"labelExpr":"datum.value == 0 ? 'x万' : datum.label","labelColor":"#999999","labelPadding":3,"ticks":false,"domain":false,"grid":true,"gridColor":"#B0B0B0","gridDash":[2,2],"title":null}},
   "color":{"field":"s","type":"nominal","scale":{"domain":["MA5","MA10","MA30","G"],"range":["#000000","#0000FF","#FF00FF","#555555"]},"legend":null}}},
 {"data":{"values":[{"t":"MA5:12","xi":0.83,"yv":94,"s":"MA5"},{"t":"MA10:15","xi":22.5,"yv":94,"s":"MA10"},{"t":"MA30:16","xi":44.17,"yv":94,"s":"MA30"},{"t":"Copyright 2024 SINA.COM","xi":0,"yv":-6,"s":"G"}]},
  "mark":{"type":"text","baseline":"middle","align":"left"},
  "encoding":{"x":{"field":"xi","type":"quantitative","scale":{"domain":[0,88],"nice":false,"zero":false},"axis":{"orient":"bottom","offset":-129,"values":[10,19,29,39,49,57,67,74,87],"labelExpr":"datum.value==10?'2024-01-29':datum.value==19?'02-19':datum.value==29?'03-04':datum.value==39?'03-18':datum.value==49?'04-01':datum.value==57?'04-15':datum.value==67?'04-29':datum.value==74?'05-13':'05-30'","labelColor":"#1A7FD0","labelPadding":4,"ticks":false,"domain":false,"grid":false,"title":null,"labelOverlap":false,"labelFlush":false,"labelAlign":{"condition":{"test":"datum.value == 87","value":"right"},"value":"center"}}},
   "y":{"field":"yv","type":"quantitative","scale":{"domain":[0,100],"range":[319,219.7],"nice":false,"zero":false},"axis":{"orient":"left","values":[0,20,40,60,80,100],"labelExpr":"datum.value == 0 ? 'x万' : datum.label","labelColor":"#999999","labelPadding":3,"ticks":false,"domain":false,"grid":true,"gridColor":"#B0B0B0","gridDash":[2,2],"title":null}},
   "text":{"field":"t"},
   "color":{"field":"s","type":"nominal","scale":{"domain":["MA5","MA10","MA30","G"],"range":["#000000","#0000FF","#FF00FF","#555555"]},"legend":null}}},
 {"data":{"values":[{"t":"http://finance.sina.com.cn","xi":87.83,"yv":-6}]},
  "mark":{"type":"text","baseline":"middle","align":"right","color":"#555555"},
  "encoding":{"x":{"field":"xi","type":"quantitative","scale":{"domain":[0,88],"nice":false,"zero":false},"axis":{"orient":"bottom","offset":-129,"values":[10,19,29,39,49,57,67,74,87],"labelExpr":"datum.value==10?'2024-01-29':datum.value==19?'02-19':datum.value==29?'03-04':datum.value==39?'03-18':datum.value==49?'04-01':datum.value==57?'04-15':datum.value==67?'04-29':datum.value==74?'05-13':'05-30'","labelColor":"#1A7FD0","labelPadding":4,"ticks":false,"domain":false,"grid":false,"title":null,"labelOverlap":false,"labelFlush":false,"labelAlign":{"condition":{"test":"datum.value == 87","value":"right"},"value":"center"}}},
   "y":{"field":"yv","type":"quantitative","scale":{"domain":[0,100],"range":[319,219.7],"nice":false,"zero":false},"axis":{"orient":"left","values":[0,20,40,60,80,100],"labelExpr":"datum.value == 0 ? 'x万' : datum.label","labelColor":"#999999","labelPadding":3,"ticks":false,"domain":false,"grid":true,"gridColor":"#B0B0B0","gridDash":[2,2],"title":null}},
   "text":{"field":"t"}}}
]}
],
"resolve":{"scale":{"y":"independent"},"axis":{"y":"independent"}}
}
